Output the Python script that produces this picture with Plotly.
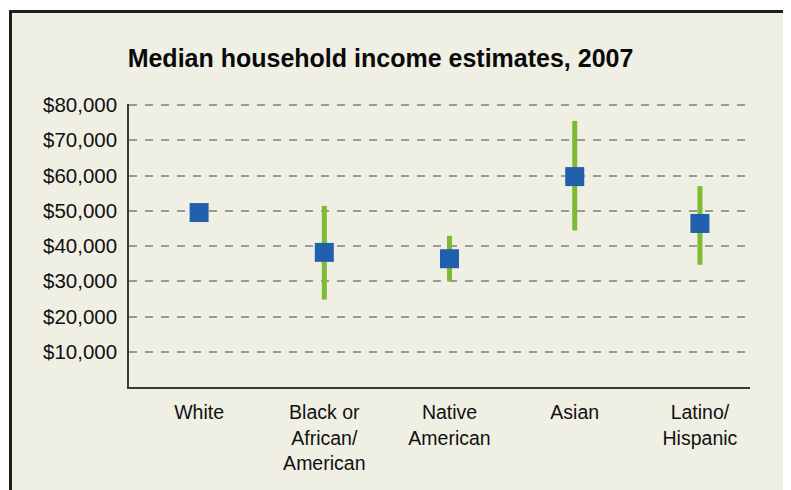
import plotly.graph_objects as go

# valores (mediana e intervalo estimado)
categories = ["White", "Black or<br>African/<br>American", "Native<br>American",
              "Asian", "Latino/<br>Hispanic"]
median_income = [49500, 38200, 36400, 59700, 46400]
upper_income = [49500, 51400, 42900, 75500, 57000]
lower_income = [49500, 24800, 30000, 44400, 34700]
y_ticks = [10000, 20000, 30000, 40000, 50000, 60000, 70000, 80000]
y_tick_labels = ["$10,000", "$20,000", "$30,000", "$40,000",
                 "$50,000", "$60,000", "$70,000", "$80,000"]

# a página tem margem de 8px no body: coordenadas da figura = página - 8
OFF = 8
W, H = 791 - OFF, 490 - OFF
L, T = 129 - OFF, 104 - OFF
R, B = 791 - 750, 490 - 387
BG = "#f0efe4"

x_pos = list(range(len(categories)))
err_plus = [u - m for u, m in zip(upper_income, median_income)]
err_minus = [m - l for m, l in zip(median_income, lower_income)]

fig = go.Figure()
fig.add_trace(go.Scatter(
    x=x_pos, y=median_income, mode="markers",
    marker=dict(symbol="square", size=19, color="#2160ad", line=dict(width=0)),
    error_y=dict(type="data", symmetric=False, array=err_plus,
                 arrayminus=err_minus, thickness=5, width=0, color="#7dbb35"),
    hoverinfo="skip", showlegend=False,
))


def px_x(p):
    # p em coordenadas da página
    return (p - OFF - L) / (W - L - R)


def px_y(p):
    return (H - B - (p - OFF)) / (H - T - B)


# moldura bege com borda escura (cortada embaixo como no original)
fig.add_shape(type="rect", xref="paper", yref="paper", layer="below",
              x0=px_x(10.5), x1=px_x(789.5), y0=px_y(520), y1=px_y(11.5),
              fillcolor=BG, line=dict(color="#1e1e1e", width=3))

fig.update_layout(
    width=W, height=H,
    margin=dict(l=L, r=R, t=T, b=B, pad=0),
    paper_bgcolor="white",
    plot_bgcolor="rgba(0,0,0,0)",
    font=dict(family="Liberation Sans, Arial, sans-serif", size=20, color="#111111"),
    title=dict(text="<b>Median household income estimates, 2007</b>",
               x=(380.5 - OFF) / W, xanchor="center", y=1 - (58 - OFF) / H,
               yanchor="middle", font=dict(size=25, color="#0a0a0a")),
)
fig.update_xaxes(
    range=[-0.56, 4.40], tickvals=x_pos, ticktext=categories,
    showgrid=False, zeroline=False, showline=True, linecolor="#3a3a3a",
    linewidth=2, ticks="", ticklabelstandoff=7, tickfont=dict(size=19.5),
)
# o topo vai um pouco além de 80 000 para a grade de $80,000 aparecer
fig.update_yaxes(
    range=[0, 80300], tickvals=y_ticks, ticktext=y_tick_labels,
    showgrid=True, gridcolor="#9a9a92", gridwidth=1.5, griddash="8px,8px",
    zeroline=False, showline=True, linecolor="#3a3a3a", linewidth=1.5,
    ticks="", ticklabelstandoff=6, tickfont=dict(size=20.5),
)

fig.write_html("out.html")
